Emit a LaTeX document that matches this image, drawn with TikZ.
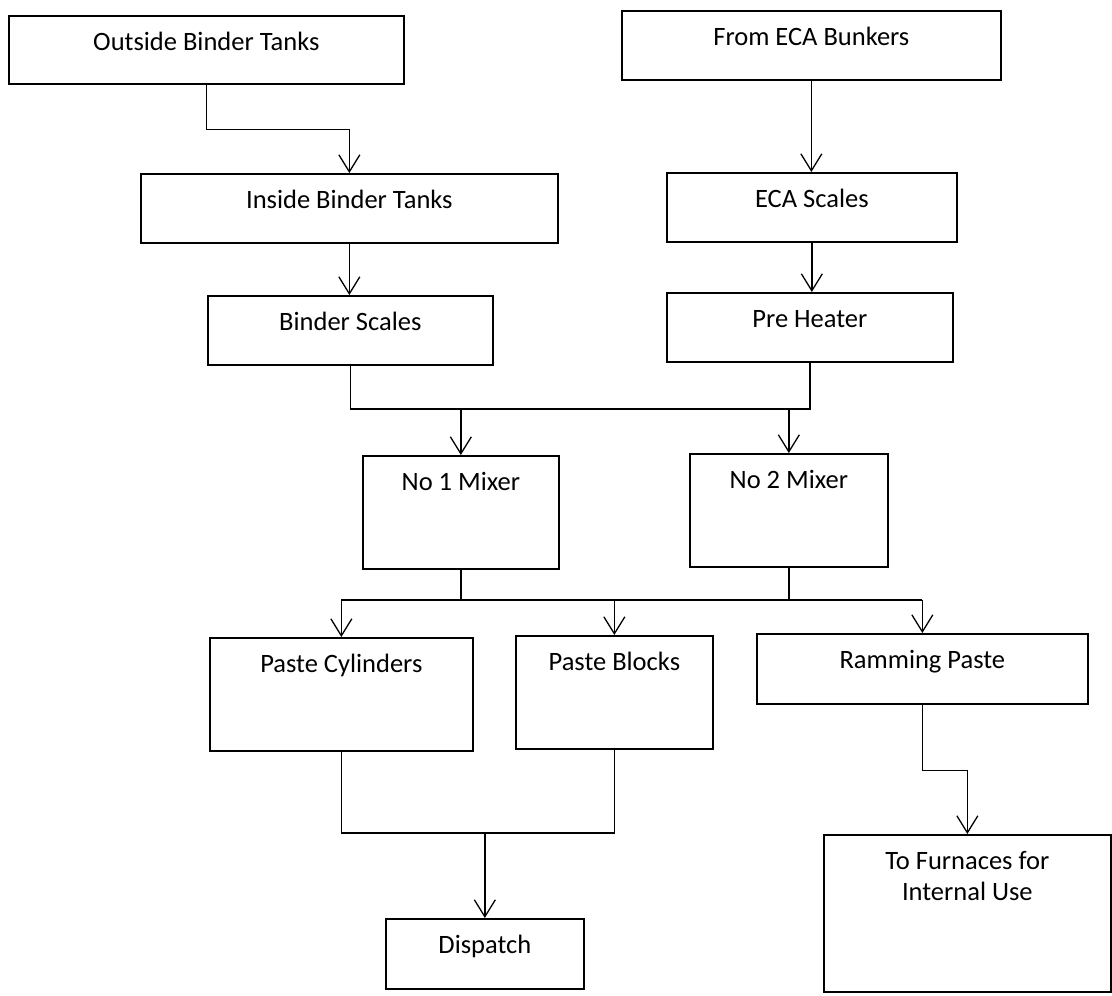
\documentclass[tikz,border=0pt]{standalone}
\usepackage{fontspec}
\setmainfont{Carlito}
\usetikzlibrary{arrows.meta}

\tikzstyle{process} = [draw, line width=1.7pt, anchor=north west, inner sep=0pt, text height=35pt, align=center, font=\fontsize{26.5}{31}\selectfont]
\tikzstyle{flow} = [line width=1.3pt]
\tikzstyle{flowarrow} = [flow, -{Straight Barb[length=17pt,width=21pt]}]

\begin{document}
\begin{tikzpicture}[x=1pt,y=-1pt]
	\useasboundingbox (0,0) rectangle (1112,996);

	\node[process, minimum width=395pt, text depth=33pt] (obt) at (8,15) {Outside Binder Tanks};
	\node[process, minimum width=379pt, text depth=34pt] (fecb) at (621,10) {From ECA Bunkers};
	\node[process, minimum width=417pt, text depth=34pt] (ibt) at (140,173) {Inside Binder Tanks};
	\node[process, minimum width=290pt, text depth=34pt] (ecas) at (666,172) {ECA Scales};
	\node[process, minimum width=285pt, text depth=34pt] (bs) at (207,295) {Binder Scales};
	\node[process, minimum width=286pt, text depth=34pt] (ph) at (666,292) {Pre Heater};
	\node[process, minimum width=196pt, text depth=78pt] (m1) at (362,455) {No 1 Mixer};
	\node[process, minimum width=198pt, text depth=78pt] (m2) at (689,453) {No 2 Mixer};
	\node[process, minimum width=263pt, text depth=78pt] (pc) at (209,637) {Paste Cylinders};
	\node[process, minimum width=197pt, text depth=78pt] (pb) at (515,635) {Paste Blocks};
	\node[process, minimum width=331pt, text depth=35pt] (rp) at (756,633) {Ramming Paste};
	\node[process, minimum width=198pt, text depth=35pt] (dis) at (385,918) {Dispatch};
	\node[process, minimum width=287pt, text height=66pt, text depth=91pt] (fur) at (823,834) {To Furnaces for\\Internal Use};

	% joins
	\coordinate (jtop) at (0,409);
	\coordinate (jmid) at (0,600);
	\coordinate (jbot) at (0,833);

	\draw[flowarrow] (obt.south) -- ++(0,45) -| (ibt.north);
	\draw[flowarrow] (ibt.south) -- (ibt.south |- bs.north);
	\draw[flowarrow] (fecb.south) -- (fecb.south |- ecas.north);
	\draw[flowarrow] (ecas.south) -- (ecas.south |- ph.north);

	\draw[flow] (bs.south) |- (jtop -| ph.south) -- (ph.south);
	\draw[flowarrow] (m1.north |- jtop) -- (m1.north);
	\draw[flowarrow] (m2.north |- jtop) -- (m2.north);

	\draw[flow] (m1.south) -- (m1.south |- jmid);
	\draw[flow] (m2.south) -- (m2.south |- jmid);
	\draw[flow] (pc.north |- jmid) -- (rp.north |- jmid);
	\draw[flowarrow] (pc.north |- jmid) -- (pc.north);
	\draw[flowarrow] (pb.north |- jmid) -- (pb.north);
	\draw[flowarrow] (rp.north |- jmid) -- (rp.north);

	\draw[flow] (pc.south) |- (jbot -| pb.south) -- (pb.south);
	\draw[flowarrow] (dis.north |- jbot) -- (dis.north);

	\draw[flowarrow] (rp.south) -- ++(0,66) -| (fur.north);
\end{tikzpicture}
\end{document}
